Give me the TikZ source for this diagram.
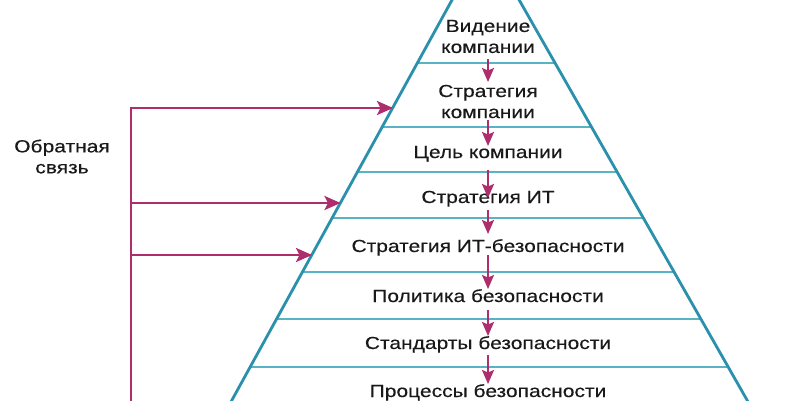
\documentclass[tikz,border=0pt]{standalone}
\usepackage{fontspec}
\setmainfont{Liberation Sans}[FakeStretch=1.2,FakeBold=0.3]
\usetikzlibrary{arrows.meta}
\definecolor{mag}{HTML}{AE2D6C}
\definecolor{tealedge}{HTML}{2A90AC}
\definecolor{tealline}{HTML}{5AB3C4}
\begin{document}
\begin{tikzpicture}[x=1pt,y=-1pt,
  lbl/.style={font=\fontsize{17.5}{21}\selectfont, text=black!90, inner sep=0pt},
  edgeline/.style={draw=tealedge, line width=2.8pt},
  bandline/.style={draw=tealline, line width=1.3pt},
  down/.style={draw=mag, line width=2.2pt, -{Stealth[length=14pt,width=12pt,inset=2.5pt]}},
  fb/.style={draw=mag, line width=2.7pt, line join=miter},
  fbarrow/.style={fb, -{Stealth[length=16pt,width=14pt,inset=3.5pt]}}]
\useasboundingbox (0,0) rectangle (800,400);
\fill[white] (0,0) rectangle (800,400);
\clip (0,0) rectangle (800,400);
% band separators
\foreach \L in {63,127,172,218,272,319,367}
  \draw[bandline] ({452-0.55*\L},\L) -- ({519+0.57*\L},\L);
% pyramid edges
\coordinate (apex) at (485,-60);
\coordinate (LB) at (221,420);
\coordinate (RB) at (758.4,420);
\draw[edgeline] (LB) -- (apex) -- (RB);
% texts
\node[lbl, align=center] (n1) at (488,36.5) {Видение\\компании};
\node[lbl, align=center] (n2) at (488,101.5) {Стратегия\\компании};
\node[lbl, anchor=base] (n3) at (488,158) {Цель компании};
\node[lbl, anchor=base] (n4) at (488,203) {Стратегия ИТ};
\node[lbl, anchor=base] (n5) at (488,252) {Стратегия ИТ-безопасности};
\node[lbl, anchor=base] (n6) at (488,302) {Политика безопасности};
\node[lbl, anchor=base] (n7) at (488,349) {Стандарты безопасности};
\node[lbl, anchor=base] (n8) at (488,397) {Процессы безопасности};
\node[lbl, align=center] (fbtext) at (62,156.5) {Обратная\\связь};
% downward arrows
\foreach \i/\s/\t in {1/59/82, 2/120/146, 3/170/198, 4/210/234, 5/255/289, 6/310/336, 7/355/384}{
  \coordinate (as\i) at (488,\s);
  \coordinate (at\i) at (488,\t);
  \draw[down] (as\i) -- (at\i);
}
% feedback
\coordinate (fbB) at (131,405);
\coordinate (fbT) at (131,108);
\coordinate (fb2) at (131,203);
\coordinate (fb3) at (131,255);
\coordinate (e1) at (393,108);
\coordinate (e2) at (340.5,203);
\coordinate (e3) at (312,255);
\draw[fbarrow] (fbB) -- (fbT) -- (e1);
\draw[fbarrow] (fb2) -- (e2);
\draw[fbarrow] (fb3) -- (e3);
\end{tikzpicture}
\end{document}
